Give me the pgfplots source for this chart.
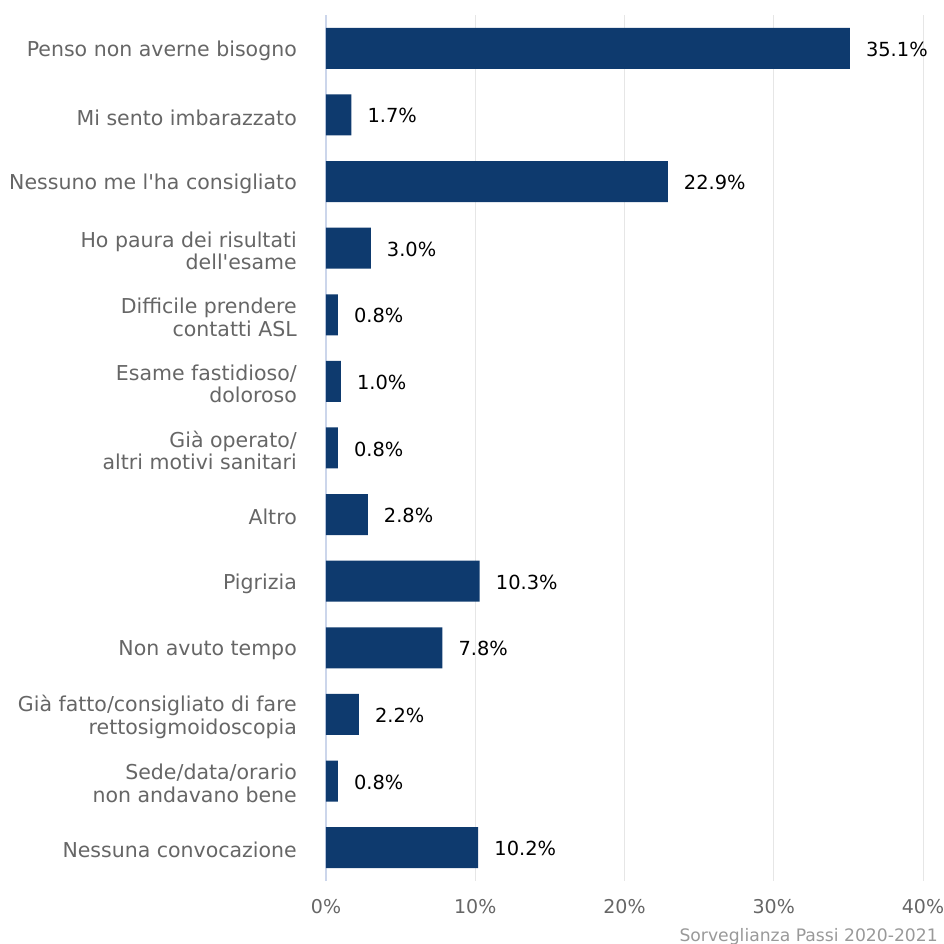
\documentclass[border=0pt]{standalone}
\usepackage{pgfplots}
\pgfplotsset{compat=1.18}
\usepackage{fontspec}
\setmainfont{DejaVu Sans}[Ligatures=TeXOff]
\definecolor{barc}{HTML}{0E3A6E}
\definecolor{lab}{HTML}{666666}
\definecolor{gridc}{HTML}{E6E6E6}
\definecolor{axl}{HTML}{CCD6EB}
\definecolor{src}{HTML}{999999}
\begin{document}
\begin{tikzpicture}
\useasboundingbox (-326pt,-63pt) rectangle (617pt,881pt);
\begin{axis}[
 at={(0pt,0pt)}, anchor=south west,
 scale only axis, width=597pt, height=866pt,
 xbar, bar width=41pt, bar shift=0pt,
 xmin=0, xmax=40, ymin=-0.5, ymax=12.5,
 axis line style={draw=none},
 xtick={10,20,30,40},
 extra x ticks={0},
 extra x tick style={grid style={axl, line width=1.3pt}},
 xmajorgrids, grid style={gridc, line width=1pt},
 major tick length=0pt,
 /pgf/number format/assume math mode=true,
 xticklabel={\pgfmathprintnumber{\tick}\%},
 xticklabel style={font=\fontsize{19}{22}\selectfont, text=lab, inner sep=0pt, anchor=north, yshift=-18pt},
 ytick={0,1,2,3,4,5,6,7,8,9,10,11,12},
 yticklabels={
  {Nessuna convocazione},
  {Sede/data/orario\\non andavano bene},
  {Già fatto/consigliato di fare\\rettosigmoidoscopia},
  {Non avuto tempo},
  {Pigrizia},
  {Altro},
  {Già operato/\\altri motivi sanitari},
  {Esame fastidioso/\\doloroso},
  {Difficile prendere\\contatti ASL},
  {Ho paura dei risultati\\dell'esame},
  {Nessuno me l'ha consigliato},
  {Mi sento imbarazzato},
  {Penso non averne bisogno}},
 yticklabel style={font=\fontsize{20.5}{22.5}\selectfont, text=lab, align=right, inner sep=0pt, anchor=east, xshift=-29pt, yshift=-2.5pt},
 point meta=x,
 nodes near coords={\pgfmathprintnumber[fixed,fixed zerofill,precision=1]{\pgfplotspointmeta}\%},
 nodes near coords style={font=\fontsize{19.4}{23}\selectfont, text=black, anchor=west, inner sep=0pt, xshift=16pt, yshift=-1pt},
]
\addplot[fill=barc, draw=none] coordinates {
 (10.2,0) (0.8,1) (2.2,2) (7.8,3) (10.3,4) (2.8,5) (0.8,6)
 (1.0,7) (0.8,8) (3.0,9) (22.9,10) (1.7,11) (35.1,12)
};
\end{axis}
\node[anchor=base east, inner sep=0pt, text=src, font=\fontsize{17.2}{20}\selectfont] at (612pt,-60pt) {Sorveglianza Passi 2020-2021};
\end{tikzpicture}
\end{document}
